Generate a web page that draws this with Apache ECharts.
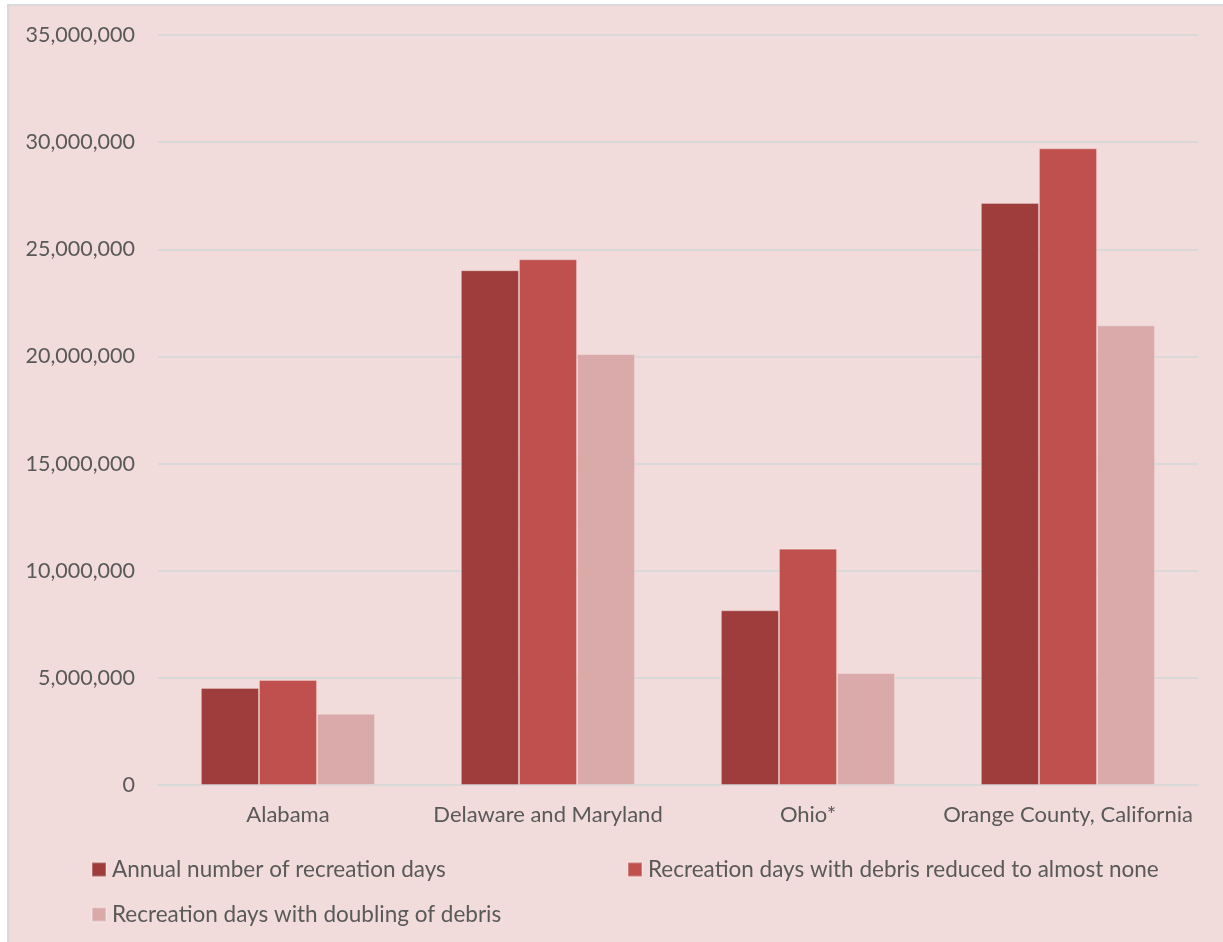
<!DOCTYPE html>
<html>
<head>
<meta charset="utf-8">
<script src="https://cdn.jsdelivr.net/npm/echarts@6/dist/echarts.min.js"></script>
<style>
html,body{margin:0;padding:0;background:#ffffff;overflow:hidden;width:1223px;height:942px;}
#bg{position:absolute;left:7px;top:4px;width:1400px;height:1200px;border:2px solid #d9d9d9;background:#f2dcdb;}
#chart{position:absolute;left:0;top:0;width:1223px;height:942px;}
</style>
</head>
<body>
<div id="bg"></div>
<div id="chart"></div>
<script>
const categories = ["Alabama", "Delaware and Maryland", "Ohio*", "Orange County, California"];
const seriesNames = ["Annual number of recreation days", "Recreation days with debris reduced to almost none", "Recreation days with doubling of debris"];
const annualDays = [4530000, 24020000, 8150000, 27160000];
const reducedDebris = [4900000, 24530000, 11030000, 29710000];
const doubledDebris = [3330000, 20110000, 5230000, 21450000];
const yTicks = { min: 0, max: 35000000, interval: 5000000 };

const colors = ["#9e3d3b", "#c0504d", "#daaaaa"];
const FONT = "Lato";
const TXT = "#595959";
const FS = 21.5;

const chart = echarts.init(document.getElementById('chart'), null, { renderer: 'canvas' });
const values = [annualDays, reducedDebris, doubledDebris];

const legendPos = [
  { left: 91, top: 858 },
  { left: 627, top: 858 },
  { left: 91, top: 903 }
];

chart.setOption({
  backgroundColor: 'transparent',
  animation: false,
  textStyle: { fontFamily: FONT, color: TXT },
  grid: { left: 158, right: 25, top: 35, bottom: 157, containLabel: false },
  legend: seriesNames.map((n, i) => ({
    data: [n],
    left: legendPos[i].left,
    top: legendPos[i].top,
    icon: 'rect',
    itemWidth: 14,
    itemHeight: 14,
    itemGap: 0,
    padding: 0,
    selectedMode: false,
    textStyle: { fontFamily: FONT, fontSize: 22.5, color: TXT, padding: [0, 0, 0, 1] }
  })),
  xAxis: {
    type: 'category',
    data: categories,
    axisLine: { show: true, lineStyle: { color: '#d9d9d9', width: 2 } },
    axisTick: { show: false },
    axisLabel: { fontFamily: FONT, fontSize: 22, color: TXT, margin: 19, interval: 0 },
    splitLine: { show: false }
  },
  yAxis: {
    type: 'value',
    min: yTicks.min,
    max: yTicks.max,
    interval: yTicks.interval,
    axisLine: { show: false },
    axisTick: { show: false },
    axisLabel: {
      fontFamily: FONT, fontSize: FS, color: TXT, margin: 23,
      formatter: v => v === 0 ? '0' : v.toLocaleString('en-US')
    },
    splitLine: { show: true, lineStyle: { color: '#d9d9d9', width: 2 } }
  },
  series: seriesNames.map((n, i) => ({
    name: n,
    type: 'bar',
    data: values[i],
    barGap: '0%',
    barCategoryGap: '33%',
    itemStyle: { color: colors[i], borderColor: 'rgba(255,255,255,0.25)', borderWidth: 1 }
  }))
});
</script>
</body>
</html>
